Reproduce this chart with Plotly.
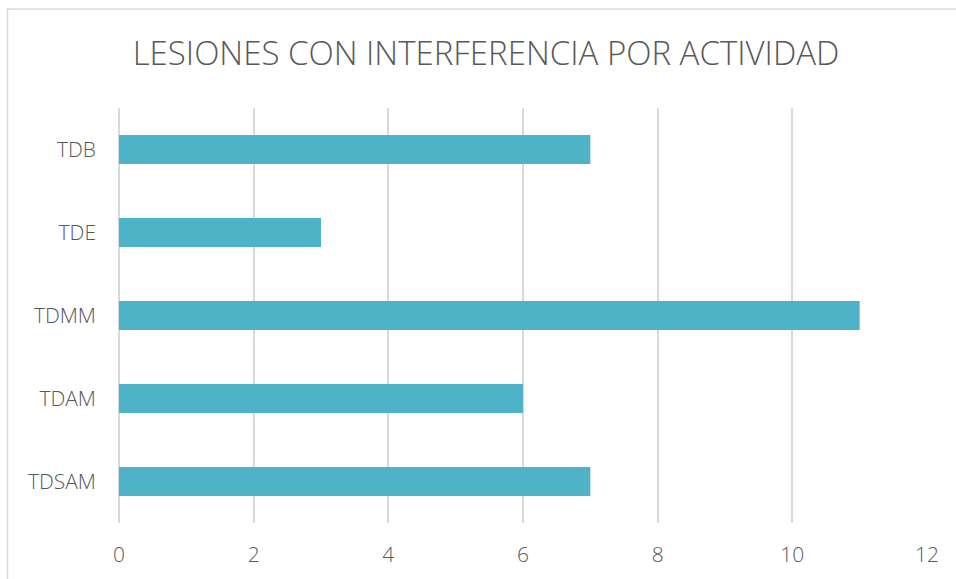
import plotly.graph_objects as go

categories = ["TDB", "TDE", "TDMM", "TDAM", "TDSAM"]
values = [7, 3, 11, 6, 7]
x_ticks = [0, 2, 4, 6, 8, 10, 12]

fig = go.Figure(go.Bar(
    x=values, y=categories, orientation="h",
    marker=dict(color="#4FB3C7", line=dict(width=0)),
    width=0.35,
))

fig.update_layout(
    width=956, height=579,
    margin=dict(l=119, r=29, t=108, b=56),
    paper_bgcolor="white", plot_bgcolor="white",
    font=dict(family="Open Sans", color="#595959"),
    title=dict(text="LESIONES CON INTERFERENCIA POR ACTIVIDAD",
               x=486/956, xanchor="center", xref="container",
               y=1-53/579, yanchor="middle", yref="container",
               font=dict(size=33, color="#595959", family="Open Sans", weight=300)),
    showlegend=False,
    xaxis=dict(range=[0, 12], tickvals=x_ticks, showgrid=True, gridcolor="#D9D9D9",
               gridwidth=1.5, zeroline=True, zerolinecolor="#D9D9D9", zerolinewidth=1.5,
               showline=False, tickfont=dict(size=21, color="#595959", weight=300),
               ticks="", ticklabelstandoff=17, automargin=False, fixedrange=True),
    yaxis=dict(categoryorder="array", categoryarray=categories[::-1],
               showgrid=False, showline=False, tickfont=dict(size=21, color="#595959", weight=300),
               ticks="", ticklabelstandoff=22, automargin=False, fixedrange=True),
    shapes=[dict(type="rect", xref="paper", yref="paper",
                 x0=(7.5-119)/808, x1=(970-119)/808,
                 y0=-0.3, y1=(523-9)/415,
                 line=dict(color="#D9D9D9", width=1.5), fillcolor="rgba(0,0,0,0)",
                 layer="below")],
)

fig.write_html("out.html", config={"displayModeBar": False},
               post_script="document.body.style.margin='0';document.body.style.overflow='hidden';")
